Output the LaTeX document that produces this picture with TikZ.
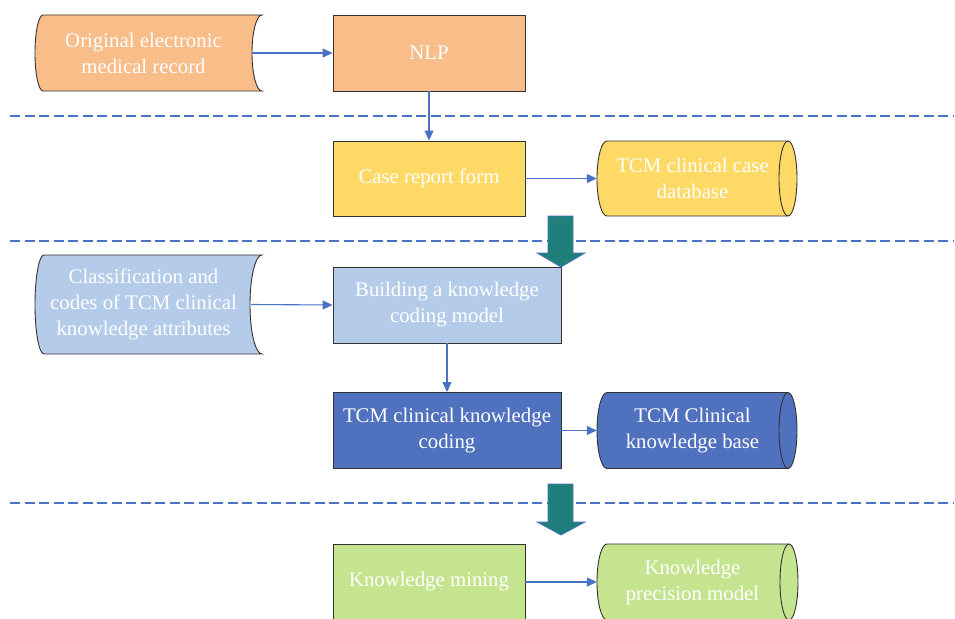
\documentclass[tikz,border=0pt]{standalone}
\usepackage{fontspec}
\setmainfont{Liberation Serif}
\usetikzlibrary{arrows.meta}
\definecolor{cOrange}{HTML}{F9BD8A}
\definecolor{cYellow}{HTML}{FFD966}
\definecolor{cLight}{HTML}{B4CCE9}
\definecolor{cDark}{HTML}{4F71BE}
\definecolor{cGreen}{HTML}{C5E48F}
\definecolor{cTeal}{HTML}{1F7F7B}
\definecolor{cLine}{HTML}{4A72C4}
\definecolor{cEdge}{HTML}{333333}
\tikzset{
  shapeline/.style={draw=cEdge, line width=0.9pt},
  box/.style={shapeline, rectangle, inner sep=0pt, text=white, align=center,
    font=\fontsize{20.8}{26}\selectfont},
  lbl/.style={inner sep=0pt, text=white, align=center,
    font=\fontsize{20.8}{26}\selectfont},
  conn/.style={draw=cLine, line width=1.1pt, -{Triangle[length=10pt,width=9pt]}},
  sep/.style={draw=cLine, line width=1.1pt, dash pattern=on 10pt off 4.5pt},
  bigarrow/.style={fill=cTeal, draw=cDark, line width=0.8pt}
}
\begin{document}
\begin{tikzpicture}[x=1pt,y=-1pt]
\useasboundingbox (0,0) rectangle (955,618);
\clip (0,0) rectangle (955,618);

% separators
\draw[sep] (10,116) -- (953,116);
\draw[sep] (10,241) -- (953,241);
\draw[sep] (10,503) -- (953,503);

% Original electronic medical record (stored data)
\path[shapeline, fill=cOrange] (43,15) -- (262,15)
  arc[start angle=-90, end angle=-270, x radius=10, y radius=38] -- (43,91)
  arc[start angle=90, end angle=270, x radius=8, y radius=38] -- cycle;
\node[lbl, minimum width=217pt, minimum height=76pt] (emr) at (143.5,53)
  {Original electronic\\medical record};

% NLP
\node[box, fill=cOrange, minimum width=192pt, minimum height=76pt] (nlp) at (429,53) {NLP};

% Case report form
\node[box, fill=cYellow, minimum width=192pt, minimum height=75pt] (crf) at (429,178.5) {Case report form};

% TCM clinical case database (cylinder)
\path[shapeline, fill=cYellow] (607,141) -- (788,141)
  arc[start angle=-90, end angle=90, x radius=9, y radius=37.5] -- (607,216)
  arc[start angle=90, end angle=270, x radius=10, y radius=37.5] -- cycle;
\draw[shapeline] (788,141) arc[start angle=-90, end angle=-270, x radius=9, y radius=37.5];
\node[lbl, minimum width=191pt, minimum height=75pt] (db) at (692.5,178.5)
  {TCM clinical case\\database};

% Classification (stored data)
\path[shapeline, fill=cLight] (44,255) -- (262,255)
  arc[start angle=-90, end angle=-270, x radius=12, y radius=49.5] -- (44,354)
  arc[start angle=90, end angle=270, x radius=9, y radius=49.5] -- cycle;
\node[lbl, minimum width=215pt, minimum height=99pt] (cls) at (143.5,304.5)
  {Classification and\\codes of TCM clinical\\knowledge attributes};

% Building a knowledge coding model
\node[box, fill=cLight, minimum width=228pt, minimum height=76pt] (build) at (447,305)
  {Building a knowledge\\coding model};

% TCM clinical knowledge coding
\node[box, fill=cDark, minimum width=228pt, minimum height=76pt] (coding) at (447,430.5)
  {TCM clinical knowledge\\coding};

% TCM Clinical knowledge base (cylinder)
\path[shapeline, fill=cDark] (607,392.5) -- (788,392.5)
  arc[start angle=-90, end angle=90, x radius=9, y radius=38] -- (607,468.5)
  arc[start angle=90, end angle=270, x radius=10, y radius=38] -- cycle;
\draw[shapeline] (788,392.5) arc[start angle=-90, end angle=-270, x radius=9, y radius=38];
\node[lbl, minimum width=191pt, minimum height=76pt] (kb) at (692.5,430.5)
  {TCM Clinical\\knowledge base};

% Knowledge mining
\node[box, fill=cGreen, minimum width=192pt, minimum height=76pt] (mine) at (429,582) {Knowledge mining};

% Knowledge precision model (cylinder)
\path[shapeline, fill=cGreen] (607,544) -- (789,544)
  arc[start angle=-90, end angle=90, x radius=9, y radius=38] -- (607,620)
  arc[start angle=90, end angle=270, x radius=10, y radius=38] -- cycle;
\draw[shapeline] (789,544) arc[start angle=-90, end angle=-270, x radius=9, y radius=38];
\node[lbl, minimum width=191pt, minimum height=76pt] (kpm) at (692.5,582)
  {Knowledge\\precision model};

% connectors
\draw[conn] (emr.east) -- (nlp.west);
\draw[conn] (nlp.south) -- (crf.north);
\draw[conn] (crf.east) -- (db.west);
\draw[conn] (cls.east) -- (build.west);
\draw[conn] (build.south) -- (coding.north);
\draw[conn] (coding.east) -- (kb.west);
\draw[conn] (mine.east) -- (kpm.west);

% big teal arrows
\path[bigarrow] (548,216) -- (573,216) -- (573,253) -- (585,253) -- (561,267)
  -- (537,253) -- (548,253) -- cycle;
\path[bigarrow] (548,484) -- (573,484) -- (573,522) -- (585,522) -- (561,535)
  -- (537,522) -- (548,522) -- cycle;
\end{tikzpicture}
\end{document}
